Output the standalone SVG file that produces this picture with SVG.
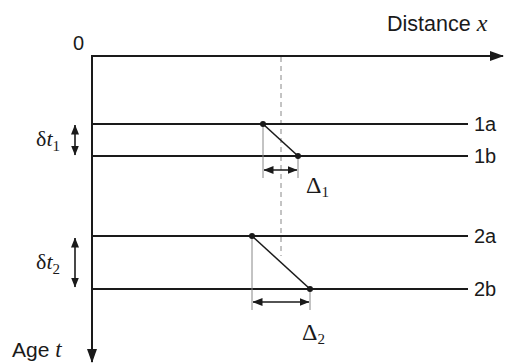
<svg xmlns="http://www.w3.org/2000/svg" width="505" height="363" viewBox="0 0 505 363">
<style>
.axis{stroke:#1a1a1a;stroke-width:2;fill:none}
.hl{stroke:#1a1a1a;stroke-width:2.2;fill:none}
.thin{stroke:#888;stroke-width:1;fill:none}
.dash{stroke:#888;stroke-width:1;stroke-dasharray:5,4;fill:none}
.sl{stroke:#1a1a1a;stroke-width:1.6;fill:none}
.dim{stroke:#1a1a1a;stroke-width:1.6;fill:none}
.sans{font-family:"Liberation Sans",Arial,sans-serif;font-size:20px;fill:#1a1a1a}
.serif{font-family:"Liberation Serif","Times New Roman",serif;fill:#1a1a1a}
.dot{fill:#1a1a1a}
</style>
<defs>
<marker id="big" viewBox="0 0 14 10" refX="13" refY="5" markerWidth="14" markerHeight="10" markerUnits="userSpaceOnUse" orient="auto">
<path d="M0,0 L14,5 L0,10 Z" fill="#1a1a1a"/>
</marker>
<marker id="sm" viewBox="0 0 10 8" refX="9.5" refY="4" markerWidth="10" markerHeight="8" markerUnits="userSpaceOnUse" orient="auto-start-reverse">
<path d="M0,0 L10,4 L0,8 Z" fill="#1a1a1a"/>
</marker>
</defs>
<g id="axes">
<line class="axis" x1="92" y1="56" x2="503" y2="56" marker-end="url(#big)"/>
<line class="axis" x1="92" y1="55" x2="92" y2="362" marker-end="url(#big)"/>
<text class="sans" x="73" y="50">0</text>
<text class="sans" x="387" y="31" style="font-size:21.5px">Distance <tspan class="serif" font-style="italic" style="font-size:24px">x</tspan></text>
<text class="sans" x="12" y="357" style="font-size:21px">Age <tspan class="serif" font-style="italic" style="font-size:23px">t</tspan></text>
</g>
<g id="connectors">
<line class="dash" x1="281" y1="57" x2="281" y2="256"/>
</g>
<g id="line-1a">
<line class="hl" x1="92" y1="124" x2="468" y2="124"/>
<text class="sans" x="474" y="131">1a</text>
</g>
<g id="line-1b">
<line class="hl" x1="92" y1="156" x2="468" y2="156"/>
<text class="sans" x="474" y="163">1b</text>
</g>
<g id="line-2a">
<line class="hl" x1="92" y1="236" x2="468" y2="236"/>
<text class="sans" x="474" y="243">2a</text>
</g>
<g id="line-2b">
<line class="hl" x1="92" y1="289" x2="468" y2="289"/>
<text class="sans" x="474" y="296">2b</text>
</g>
<g id="shift-1">
<line class="thin" x1="263" y1="124" x2="263" y2="178"/>
<line class="thin" x1="298" y1="156" x2="298" y2="178"/>
<line class="sl" x1="263" y1="124" x2="298" y2="156"/>
<circle class="dot" cx="263" cy="124" r="3"/>
<circle class="dot" cx="298" cy="156" r="3"/>
<line class="dim" x1="264" y1="170" x2="297" y2="170" marker-start="url(#sm)" marker-end="url(#sm)"/>
<text class="serif" x="306" y="193" style="font-size:24px">Δ<tspan style="font-size:15px" dy="4">1</tspan></text>
</g>
<g id="shift-2">
<line class="thin" x1="252" y1="236" x2="252" y2="310"/>
<line class="thin" x1="310" y1="289" x2="310" y2="310"/>
<line class="sl" x1="252" y1="236" x2="310" y2="289"/>
<circle class="dot" cx="252" cy="236" r="3"/>
<circle class="dot" cx="310" cy="289" r="3"/>
<line class="dim" x1="253" y1="302" x2="309" y2="302" marker-start="url(#sm)" marker-end="url(#sm)"/>
<text class="serif" x="302" y="340" style="font-size:24px">Δ<tspan style="font-size:15px" dy="4">2</tspan></text>
</g>
<g id="dt1">
<line class="dim" x1="75" y1="125" x2="75" y2="155" marker-start="url(#sm)" marker-end="url(#sm)"/>
<text class="serif" x="36" y="146" style="font-size:22px">δ<tspan font-style="italic">t</tspan><tspan style="font-size:15px" dy="5">1</tspan></text>
</g>
<g id="dt2">
<line class="dim" x1="75" y1="238" x2="75" y2="287" marker-start="url(#sm)" marker-end="url(#sm)"/>
<text class="serif" x="36" y="269" style="font-size:22px">δ<tspan font-style="italic">t</tspan><tspan style="font-size:15px" dy="5">2</tspan></text>
</g>
</svg>
